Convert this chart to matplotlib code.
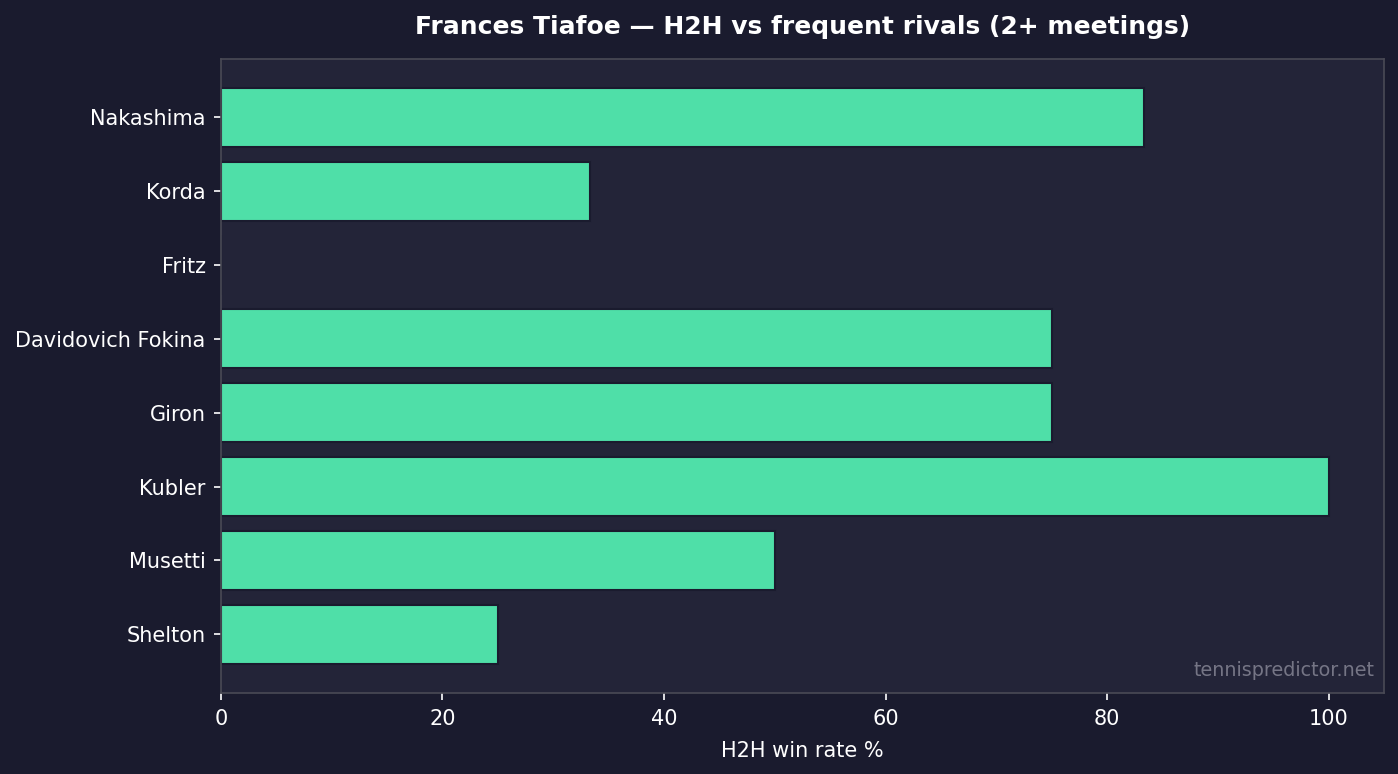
import matplotlib
matplotlib.use("Agg")
import matplotlib.pyplot as plt

plt.rcParams['font.family'] = ['DejaVu Sans']

# Daten
rivals = ["Shelton", "Musetti", "Kubler", "Giron", "Davidovich Fokina", "Fritz", "Korda", "Nakashima"]
win_rate = [25.0, 50.0, 100.0, 75.0, 75.0, 0.0, 33.3, 83.3]

# Farben
BG = "#1a1b2e"
PANEL = "#232438"
BAR = "#4fdfa8"
SPINE = "#4a4a55"
TEXT = "white"

fig, ax = plt.subplots(figsize=(13.98, 7.74), dpi=100)
fig.patch.set_facecolor(BG)
ax.set_facecolor(PANEL)

ax.barh(rivals, win_rate, height=0.8, color=BAR, edgecolor=BG, linewidth=1.5)

ax.set_xlim(0, 105)
ax.set_title("Frances Tiafoe — H2H vs frequent rivals (2+ meetings)",
             color=TEXT, fontsize=18, fontweight="bold", pad=18)
ax.set_xlabel("H2H win rate %", color=TEXT, fontsize=15, labelpad=8)
ax.tick_params(colors=TEXT, labelsize=15, length=5, width=1.2)
ax.tick_params(axis="x", pad=7)
ax.tick_params(axis="y", pad=6)
for s in ax.spines.values():
    s.set_color(SPINE)
    s.set_linewidth(1.2)

ax.text(0.992, 0.02, "tennispredictor.net", transform=ax.transAxes,
        ha="right", va="bottom", color="#8a8a99", fontsize=13.8, alpha=0.8)

fig.subplots_adjust(left=0.158, right=0.990, top=0.924, bottom=0.105)
fig.savefig("out.png", dpi=100, facecolor=BG)
